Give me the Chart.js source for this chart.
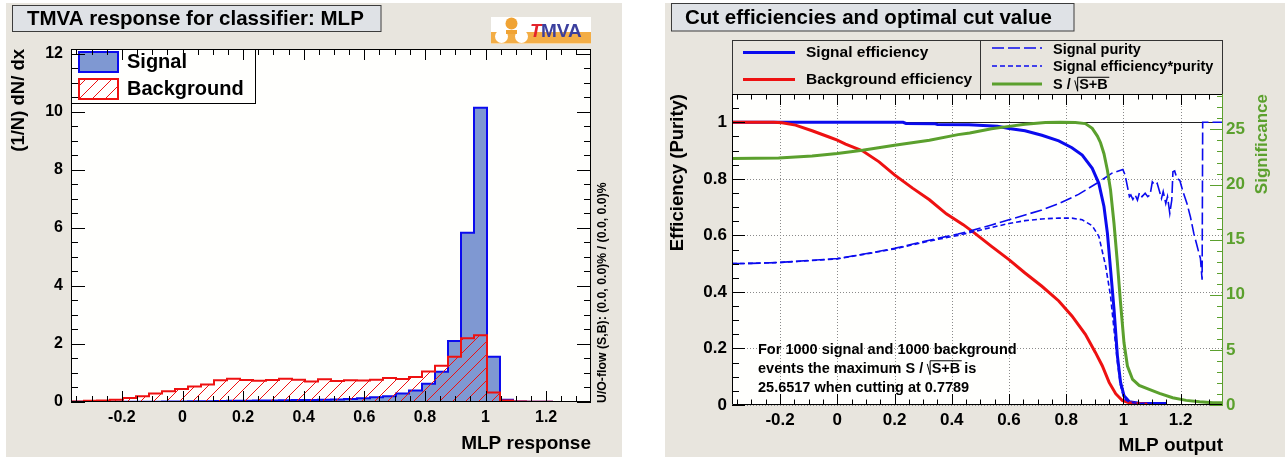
<!DOCTYPE html>
<html>
<head>
<meta charset="utf-8">
<title>TMVA MLP response and cut efficiencies</title>
<script src="https://cdn.jsdelivr.net/npm/chart.js@4.4.1/dist/chart.umd.min.js"></script>
<style>
  html, body { margin: 0; padding: 0; background: #ffffff; width: 1285px; height: 457px; overflow: hidden; }
  canvas { position: absolute; }
  #response { left: 6px; top: 3px; }
  #cuts { left: 665px; top: 3px; }
</style>
</head>
<body>
<canvas id="response" width="616" height="454"></canvas>
<canvas id="cuts" width="620" height="454"></canvas>
<script>
// ---------------------------------------------------------------------------
// Data
// ---------------------------------------------------------------------------

// Classifier output range of the response histograms (40 bins)
const responseMin = -0.368;
const responseMax = 1.348;
const densityMax = 12.16;

// (1/N) dN/dx per bin, signal and background
const signalDensity = [
  0.005, 0.005, 0.005, 0.005, 0.005, 0.005, 0.01, 0.015, 0.02, 0.025,
  0.03, 0.035, 0.04, 0.045, 0.05, 0.055, 0.06, 0.065, 0.07, 0.08,
  0.09, 0.1, 0.13, 0.16, 0.2, 0.29, 0.4, 0.63, 1.04, 2.1,
  5.83, 10.14, 1.56, 0.08, 0.02, 0.01, 0.005, 0, 0, 0
];
const backgroundDensity = [
  0.02, 0.04, 0.05, 0.08, 0.14, 0.2, 0.29, 0.37, 0.45, 0.53,
  0.6, 0.75, 0.8, 0.76, 0.73, 0.76, 0.8, 0.77, 0.71, 0.78,
  0.72, 0.75, 0.74, 0.77, 0.83, 0.79, 0.86, 1.05, 1.25, 1.56,
  2.2, 2.3, 0.33, 0.05, 0.02, 0.01, 0.005, 0, 0, 0
];

// Tick values
const outputTicks = [-0.2, 0, 0.2, 0.4, 0.6, 0.8, 1, 1.2];
const densityTicks = [0, 2, 4, 6, 8, 10, 12];
const efficiencyTicks = [0, 0.2, 0.4, 0.6, 0.8, 1];
const significanceTicks = [0, 5, 10, 15, 20, 25];

// Cut efficiencies as a function of the cut on the MLP output
const sigEffX = [-0.368, 0.23, 0.24, 0.34, 0.35, 0.46, 0.56, 0.6, 0.656, 0.715,
  0.774, 0.82, 0.856, 0.891, 0.914, 0.932, 0.944, 0.955, 0.967, 0.979,
  0.99, 1.002, 1.02, 1.055, 1.15];
const sigEffY = [1.0, 1.0, 0.996, 0.995, 0.992, 0.991, 0.986, 0.978, 0.97, 0.954,
  0.934, 0.91, 0.884, 0.837, 0.784, 0.702, 0.608, 0.48, 0.34, 0.174,
  0.08, 0.033, 0.012, 0.006, 0.005];

const bkgEffX = [-0.368, -0.222, -0.193, -0.146, -0.088, -0.029, 0, 0.029, 0.088, 0.146,
  0.2, 0.263, 0.322, 0.381, 0.44, 0.48, 0.539, 0.6, 0.656, 0.715,
  0.774, 0.82, 0.867, 0.902, 0.926, 0.95, 0.973, 0.996, 1.02, 1.055, 1.084];
const bkgEffY = [1.0, 1.0, 0.998, 0.99, 0.97, 0.948, 0.937, 0.923, 0.899, 0.86,
  0.814, 0.767, 0.726, 0.676, 0.638, 0.608, 0.561, 0.514, 0.467, 0.42,
  0.368, 0.315, 0.25, 0.186, 0.139, 0.08, 0.04, 0.016, 0.008, 0.004, 0.003];

const purityX = [-0.368, -0.3, -0.205, -0.088, 0, 0.088, 0.2, 0.322, 0.422, 0.463,
  0.539, 0.6, 0.656, 0.715, 0.774, 0.843, 0.913, 0.96, 0.998, 1.006,
  1.021, 1.026, 1.033, 1.041, 1.049, 1.056, 1.065, 1.076, 1.085, 1.093,
  1.101, 1.11, 1.118, 1.128, 1.133, 1.139, 1.148, 1.154, 1.162, 1.169,
  1.173, 1.179, 1.187, 1.197, 1.208, 1.222, 1.234, 1.246, 1.255, 1.264,
  1.269, 1.275, 1.277, 1.348];
const purityY = [0.5, 0.501, 0.504, 0.512, 0.518, 0.533, 0.554, 0.583, 0.605, 0.615,
  0.637, 0.655, 0.672, 0.69, 0.712, 0.745, 0.788, 0.82, 0.833, 0.813,
  0.737, 0.743, 0.727, 0.743, 0.725, 0.751, 0.737, 0.749, 0.737, 0.743,
  0.789, 0.778, 0.784, 0.749, 0.731, 0.755, 0.713, 0.737, 0.678, 0.725,
  0.825, 0.828, 0.801, 0.795, 0.755, 0.713, 0.666, 0.607, 0.572, 0.537,
  0.519, 0.443, 1.0, 1.0];

const effPurityX = [-0.368, -0.3, -0.205, -0.088, 0, 0.088, 0.2, 0.322, 0.422, 0.539,
  0.6, 0.656, 0.715, 0.774, 0.82, 0.856, 0.891, 0.914, 0.938, 0.955,
  0.967, 0.979, 0.99, 1.002, 1.02, 1.055, 1.15];
const effPurityY = [0.5, 0.501, 0.504, 0.511, 0.517, 0.532, 0.552, 0.58, 0.6, 0.628,
  0.642, 0.652, 0.658, 0.661, 0.661, 0.655, 0.634, 0.597, 0.491, 0.385,
  0.268, 0.151, 0.069, 0.022, 0.01, 0.005, 0.004];

const significanceX = [-0.368, -0.205, -0.088, 0, 0.088, 0.2, 0.322, 0.422, 0.463, 0.539,
  0.6, 0.656, 0.727, 0.779, 0.832, 0.867, 0.891, 0.909, 0.92, 0.932,
  0.944, 0.955, 0.967, 0.979, 0.99, 1.002, 1.014, 1.032, 1.055, 1.09,
  1.126, 1.172, 1.219, 1.266, 1.313, 1.348];
const significanceY = [22.36, 22.42, 22.6, 22.81, 23.11, 23.56, 24.02, 24.53, 24.68, 25.07,
  25.28, 25.47, 25.62, 25.65, 25.62, 25.53, 25.1, 24.4, 23.8, 22.8,
  21.3, 19.5, 16.49, 12.87, 9.25, 5.64, 3.53, 2.32, 1.78, 1.42,
  1.05, 0.66, 0.42, 0.3, 0.21, 0.2];

const maxSignificance = 25.6517;
const optimalCut = 0.7789;
const nSignal = 1000;
const nBackground = 1000;

// ---------------------------------------------------------------------------
// Styling
// ---------------------------------------------------------------------------
const FONT = '"Liberation Sans", Arial, Helvetica, sans-serif';
const PANEL = '#e8e5de';
const TITLE_FILL = '#dfe2e6';
const FRAME_FILL = '#fffffd';
const SIG_LINE = '#0b0bee';
const SIG_FILL = '#7f98d2';
const BKG_LINE = '#ee1111';
const SIGNIF = '#5ba02d';

Chart.defaults.font.family = FONT;
Chart.defaults.color = '#000';

function bold(px, extra) { return (extra ? extra + ' ' : '') + 'bold ' + px + 'px ' + FONT; }
function fmt(v) { return String(Math.round(v * 10000) / 10000); }
function points(xs, ys) { return xs.map((x, i) => ({ x: x, y: ys[i] })); }

// Step outline of a histogram: a point on every bin's low edge
function histPoints(vals, lo, hi) {
  const w = (hi - lo) / vals.length;
  const p = [{ x: lo, y: 0 }];
  vals.forEach((v, i) => p.push({ x: lo + i * w, y: v }));
  p.push({ x: hi, y: vals[vals.length - 1] });
  p.push({ x: hi, y: 0 });
  return p;
}

function hatchPattern(ctx, color, gap) {
  const c = document.createElement('canvas');
  c.width = gap; c.height = gap;
  const g = c.getContext('2d');
  g.strokeStyle = color; g.lineWidth = 1;
  g.beginPath();
  g.moveTo(0, gap); g.lineTo(gap, 0);
  g.moveTo(-gap / 2, gap / 2); g.lineTo(gap / 2, -gap / 2);
  g.moveTo(gap / 2, gap * 1.5); g.lineTo(gap * 1.5, gap / 2);
  g.stroke();
  return ctx.createPattern(c, 'repeat');
}

function fixedSize(w, h) {
  return (s) => { if (w != null) s.width = w; if (h != null) s.height = h; };
}
function setTicks(vals) {
  return (s) => { s.ticks = vals.map(v => ({ value: v })); };
}

function titleBox(ctx, x, y, w, h, text, tx, px) {
  ctx.fillStyle = TITLE_FILL;
  ctx.fillRect(x, y, w, h);
  ctx.strokeStyle = '#3c3c3c'; ctx.lineWidth = 1;
  ctx.strokeRect(x, y, w, h);
  ctx.fillStyle = '#000';
  ctx.font = bold(px);
  ctx.textAlign = 'left'; ctx.textBaseline = 'middle';
  ctx.fillText(text, tx, y + h / 2 + 1);
}

function drawLogo(ctx, x, y) {
  ctx.fillStyle = '#ffffff';
  ctx.fillRect(x, y, 100, 27);
  ctx.fillStyle = '#f3ad45';
  ctx.fillRect(x, y + 15, 100, 11.5);
  ctx.fillStyle = '#ffffff';
  [[10.5, 19.5], [30.5, 19.5]].forEach(([cx, cy]) => {
    ctx.beginPath(); ctx.arc(x + cx, y + cy, 6.5, 0, Math.PI * 2); ctx.fill();
  });
  ctx.fillStyle = '#f0a334';
  ctx.beginPath(); ctx.arc(x + 20.5, y + 6.5, 6, 0, Math.PI * 2); ctx.fill();
  ctx.fillRect(x + 15, y + 13, 11, 4);
  ctx.textAlign = 'left'; ctx.textBaseline = 'alphabetic';
  ctx.font = bold(19, 'italic');
  ctx.fillStyle = '#e3232b';
  ctx.fillText('T', x + 39, y + 20);
  ctx.font = bold(19);
  ctx.fillStyle = '#3b3f9e';
  ctx.fillText('MVA', x + 50, y + 20);
}

// ROOT-style tick marks pointing into the frame
function axisTicks(ctx, scale, area, majors, minorStep, majorLen, minorLen, sides) {
  const marks = majors.map(v => [v, majorLen]);
  const k0 = Math.ceil(scale.min / minorStep - 1e-9);
  const k1 = Math.floor(scale.max / minorStep + 1e-9);
  for (let k = k0; k <= k1; k++) {
    const v = k * minorStep;
    if (!majors.some(m => Math.abs(m - v) < minorStep * 1e-3)) marks.push([v, minorLen]);
  }
  ctx.beginPath();
  marks.forEach(([v, len]) => {
    const p = Math.round(scale.getPixelForValue(v)) + 0.5;
    if (scale.isHorizontal()) {
      if (sides.includes('bottom')) { ctx.moveTo(p, area.bottom); ctx.lineTo(p, area.bottom - len); }
      if (sides.includes('top')) { ctx.moveTo(p, area.top); ctx.lineTo(p, area.top + len); }
    } else {
      if (sides.includes('left')) { ctx.moveTo(area.left, p); ctx.lineTo(area.left + len, p); }
      if (sides.includes('right')) { ctx.moveTo(area.right, p); ctx.lineTo(area.right - len, p); }
    }
  });
  ctx.stroke();
}

// Text containing a square root drawn the ROOT way: "\|" followed by an overline
function textWithRoot(ctx, before, radicand, after, x, y, px) {
  ctx.textAlign = 'left'; ctx.textBaseline = 'middle';
  ctx.fillText(before, x, y);
  let cx = x + ctx.measureText(before).width;
  const cap = px * 0.72;
  const top = y - cap / 2 - 2.5, bottom = y + cap / 2 + 1;
  const rw = ctx.measureText(radicand).width;
  const stem = cx + px * 0.2;
  ctx.save();
  ctx.strokeStyle = ctx.fillStyle; ctx.lineWidth = 1;
  ctx.beginPath();
  ctx.moveTo(cx, top + cap * 0.3);
  ctx.lineTo(stem, bottom);
  ctx.lineTo(stem, top);
  ctx.lineTo(stem + rw + 3, top);
  ctx.stroke();
  ctx.restore();
  cx = stem + 1.5;
  ctx.fillText(radicand, cx, y);
  cx += rw;
  if (after) ctx.fillText(after, cx, y);
}

// ---------------------------------------------------------------------------
// Left panel: classifier response
// ---------------------------------------------------------------------------
const respCanvas = document.getElementById('response');
const respCtx = respCanvas.getContext('2d');
const bkgHatch = hatchPattern(respCtx, BKG_LINE, 13);

const responseDecor = {
  id: 'responseDecor',
  beforeDraw(chart) {
    const { ctx, width, height, chartArea: a } = chart;
    ctx.save();
    ctx.fillStyle = PANEL;
    ctx.fillRect(0, 0, width, height);
    titleBox(ctx, 6.5, 2.5, 368.5, 26, 'TMVA response for classifier: MLP', 21, 20.5);
    drawLogo(ctx, 485, 14);
    ctx.fillStyle = FRAME_FILL;
    ctx.fillRect(a.left, a.top, a.right - a.left, a.bottom - a.top);
    ctx.restore();
  },
  afterDatasetsDraw(chart) {
    const ctx = chart.ctx;
    const [bkg, sig] = chart.data.datasets;
    ctx.save();
    ctx.fillStyle = FRAME_FILL;
    ctx.fillRect(65.5, 46.5, 184, 54);
    ctx.strokeStyle = '#000'; ctx.lineWidth = 1;
    ctx.strokeRect(65.5, 46.5, 184, 54);
    // signal swatch
    ctx.fillStyle = sig.backgroundColor;
    ctx.fillRect(73, 49, 39, 20);
    ctx.strokeStyle = sig.borderColor; ctx.lineWidth = 2;
    ctx.strokeRect(73, 49, 39, 20);
    // background swatch
    ctx.fillStyle = '#ffffff';
    ctx.fillRect(73, 76, 39, 20);
    ctx.fillStyle = bkg.backgroundColor;
    ctx.fillRect(73, 76, 39, 20);
    ctx.strokeStyle = bkg.borderColor;
    ctx.strokeRect(73, 76, 39, 20);
    ctx.fillStyle = '#000';
    ctx.font = bold(20);
    ctx.textAlign = 'left'; ctx.textBaseline = 'middle';
    ctx.fillText(sig.label, 121, 59.5);
    ctx.fillText(bkg.label, 121, 86);
    ctx.restore();
  },
  afterDraw(chart) {
    const { ctx, chartArea: a, scales } = chart;
    ctx.save();
    ctx.strokeStyle = '#000'; ctx.lineWidth = 1;
    axisTicks(ctx, scales.x, a, outputTicks, 0.05, 11, 6, ['bottom', 'top']);
    axisTicks(ctx, scales.y, a, densityTicks, 0.5, 14, 7, ['left', 'right']);
    ctx.strokeRect(a.left + 0.5, a.top + 0.5, a.right - a.left - 1, a.bottom - a.top - 1);
    // under/overflow note along the right edge
    ctx.translate(597, 400);
    ctx.rotate(-Math.PI / 2);
    ctx.fillStyle = '#000';
    ctx.font = bold(12.3);
    ctx.textAlign = 'left'; ctx.textBaseline = 'middle';
    ctx.fillText('U/O-flow (S,B): (0.0, 0.0)% / (0.0, 0.0)%', 0, 0);
    ctx.restore();
  }
};

new Chart(respCtx, {
  type: 'line',
  data: {
    datasets: [
      {
        label: 'Background',
        data: histPoints(backgroundDensity, responseMin, responseMax),
        stepped: 'before',
        borderColor: BKG_LINE,
        borderWidth: 2,
        backgroundColor: bkgHatch,
        fill: 'origin',
        pointRadius: 0,
        order: 0
      },
      {
        label: 'Signal',
        data: histPoints(signalDensity, responseMin, responseMax),
        stepped: 'before',
        borderColor: SIG_LINE,
        borderWidth: 2,
        backgroundColor: SIG_FILL,
        fill: 'origin',
        pointRadius: 0,
        order: 1
      }
    ]
  },
  options: {
    responsive: false,
    animation: false,
    devicePixelRatio: 1,
    events: [],
    layout: { padding: { left: 0, top: 46, right: 31, bottom: 0 } },
    plugins: { legend: { display: false }, tooltip: { enabled: false }, title: { display: false } },
    scales: {
      x: {
        type: 'linear',
        min: responseMin,
        max: responseMax,
        afterBuildTicks: setTicks(outputTicks),
        afterFit: fixedSize(null, 55),
        grid: { display: false, drawTicks: false },
        border: { display: false },
        ticks: { autoSkip: false, maxRotation: 0, padding: 6, font: { size: 16, weight: 'bold' }, callback: fmt },
        title: { display: true, text: 'MLP response', align: 'end', font: { size: 19, weight: 'bold' }, padding: { top: 0, bottom: 2 } }
      },
      y: {
        type: 'linear',
        min: 0,
        max: densityMax,
        afterBuildTicks: setTicks(densityTicks),
        afterFit: fixedSize(65, null),
        grid: { display: false, drawTicks: false },
        border: { display: false },
        ticks: { autoSkip: false, padding: 8, font: { size: 16, weight: 'bold' }, callback: fmt },
        title: { display: true, text: '(1/N) dN/ dx', align: 'end', font: { size: 18.5, weight: 'bold' }, padding: { top: 2, bottom: 0 } }
      }
    }
  },
  plugins: [responseDecor]
});

// ---------------------------------------------------------------------------
// Right panel: cut efficiencies
// ---------------------------------------------------------------------------
const cutsCtx = document.getElementById('cuts').getContext('2d');

const cutsDecor = {
  id: 'cutsDecor',
  beforeDraw(chart) {
    const { ctx, width, height, chartArea: a } = chart;
    ctx.save();
    ctx.fillStyle = PANEL;
    ctx.fillRect(0, 0, width, height);
    titleBox(ctx, 6.5, 0.5, 402.5, 27.5, 'Cut efficiencies and optimal cut value', 20, 20.5);
    // legend frame
    ctx.strokeStyle = '#333'; ctx.lineWidth = 1;
    ctx.strokeRect(a.left + 0.5, 37.5, a.right - a.left - 1, a.top - 37);
    ctx.beginPath(); ctx.moveTo(315.5, 37.5); ctx.lineTo(315.5, a.top); ctx.stroke();
    ctx.fillStyle = FRAME_FILL;
    ctx.fillRect(a.left, a.top, a.right - a.left, a.bottom - a.top);
    ctx.restore();
  },
  beforeDatasetsDraw(chart) {
    const { ctx, chartArea: a, scales } = chart;
    ctx.save();
    ctx.strokeStyle = '#8a8a8a'; ctx.lineWidth = 1;
    ctx.setLineDash([1, 2]);
    ctx.beginPath();
    outputTicks.forEach(v => {
      const p = Math.round(scales.x.getPixelForValue(v)) + 0.5;
      ctx.moveTo(p, a.top); ctx.lineTo(p, a.bottom);
    });
    efficiencyTicks.forEach(v => {
      const p = Math.round(scales.y.getPixelForValue(v)) + 0.5;
      ctx.moveTo(a.left, p); ctx.lineTo(a.right, p);
    });
    ctx.stroke();
    ctx.setLineDash([]);
    ctx.strokeStyle = '#222';
    const one = Math.round(scales.y.getPixelForValue(1)) + 0.5;
    ctx.beginPath(); ctx.moveTo(a.left, one); ctx.lineTo(a.right, one); ctx.stroke();
    ctx.restore();
  },
  afterDatasetsDraw(chart) {
    const ctx = chart.ctx;
    ctx.save();
    ctx.fillStyle = '#000';
    ctx.font = bold(14.5);
    ctx.textAlign = 'left'; ctx.textBaseline = 'middle';
    ctx.fillText('For ' + nSignal + ' signal and ' + nBackground + ' background', 93, 347);
    textWithRoot(ctx, 'events the maximum S / ', 'S+B', ' is', 93, 365.5, 14.5);
    ctx.fillText(maxSignificance.toFixed(4) + ' when cutting at ' + optimalCut.toFixed(4), 93, 384.5);
    ctx.restore();
  },
  afterDraw(chart) {
    const { ctx, chartArea: a, scales } = chart;
    const ds = chart.data.datasets;
    ctx.save();
    ctx.strokeStyle = '#000'; ctx.lineWidth = 1;
    axisTicks(ctx, scales.x, a, outputTicks, 0.05, 11, 5.5, ['bottom', 'top']);
    axisTicks(ctx, scales.y, a, efficiencyTicks, 0.05, 13, 7, ['left']);
    ctx.beginPath();
    ctx.moveTo(a.right - 0.5, a.top + 0.5);
    ctx.lineTo(a.left + 0.5, a.top + 0.5);
    ctx.lineTo(a.left + 0.5, a.bottom - 0.5);
    ctx.lineTo(a.right - 0.5, a.bottom - 0.5);
    ctx.stroke();
    ctx.strokeStyle = SIGNIF;
    axisTicks(ctx, scales.y2, a, significanceTicks, 1, 13, 6, ['right']);
    ctx.beginPath(); ctx.moveTo(a.right - 0.5, a.top); ctx.lineTo(a.right - 0.5, a.bottom); ctx.stroke();

    // legend entries
    const sample = (d, x1, x2, y) => {
      ctx.save();
      ctx.strokeStyle = d.borderColor; ctx.lineWidth = d.borderWidth;
      ctx.setLineDash(d.borderDash || []);
      ctx.beginPath(); ctx.moveTo(x1, y); ctx.lineTo(x2, y); ctx.stroke();
      ctx.restore();
    };
    const byLabel = l => ds.find(d => d.label === l);
    ctx.fillStyle = '#000';
    ctx.textAlign = 'left'; ctx.textBaseline = 'middle';
    ctx.font = bold(15.5);
    sample(byLabel('Signal efficiency'), 78, 130, 49.5);
    ctx.fillText('Signal efficiency', 141, 49.5);
    sample(byLabel('Background efficiency'), 78, 130, 76.5);
    ctx.fillText('Background efficiency', 141, 76.5);
    ctx.font = bold(14.5);
    sample(byLabel('Signal purity'), 327, 377, 45);
    ctx.fillText('Signal purity', 388, 46.5);
    sample(byLabel('Signal efficiency*purity'), 327, 377, 63);
    ctx.fillText('Signal efficiency*purity', 388, 63.5);
    sample(byLabel('S/sqrt(S+B)'), 327, 377, 81);
    textWithRoot(ctx, 'S / ', 'S+B', '', 388, 82, 14.5);

    // secondary axis title, reading upwards
    ctx.translate(597, a.top);
    ctx.rotate(-Math.PI / 2);
    ctx.fillStyle = SIGNIF;
    ctx.font = bold(17);
    ctx.textAlign = 'right'; ctx.textBaseline = 'middle';
    ctx.fillText('Significance', 0, 0);
    ctx.restore();
  }
};

new Chart(cutsCtx, {
  type: 'line',
  data: {
    datasets: [
      { label: 'S/sqrt(S+B)', data: points(significanceX, significanceY), yAxisID: 'y2',
        borderColor: SIGNIF, borderWidth: 3, pointRadius: 0, fill: false, tension: 0, order: 0 },
      { label: 'Signal efficiency*purity', data: points(effPurityX, effPurityY), yAxisID: 'y',
        borderColor: SIG_LINE, borderWidth: 1.6, borderDash: [5, 3], pointRadius: 0, fill: false, tension: 0, order: 1 },
      { label: 'Signal purity', data: points(purityX, purityY), yAxisID: 'y',
        borderColor: SIG_LINE, borderWidth: 1.6, borderDash: [12, 4], pointRadius: 0, fill: false, tension: 0, order: 2 },
      { label: 'Background efficiency', data: points(bkgEffX, bkgEffY), yAxisID: 'y',
        borderColor: BKG_LINE, borderWidth: 3, pointRadius: 0, fill: false, tension: 0, order: 3 },
      { label: 'Signal efficiency', data: points(sigEffX, sigEffY), yAxisID: 'y',
        borderColor: SIG_LINE, borderWidth: 3, pointRadius: 0, fill: false, tension: 0, order: 4 }
    ]
  },
  options: {
    responsive: false,
    animation: false,
    devicePixelRatio: 1,
    events: [],
    layout: { padding: { left: 0, top: 91, right: 0, bottom: 0 } },
    plugins: { legend: { display: false }, tooltip: { enabled: false }, title: { display: false } },
    scales: {
      x: {
        type: 'linear',
        min: responseMin,
        max: responseMax,
        afterBuildTicks: setTicks(outputTicks),
        afterFit: fixedSize(null, 52),
        grid: { display: false, drawTicks: false },
        border: { display: false },
        ticks: { autoSkip: false, maxRotation: 0, padding: 5, font: { size: 17, weight: 'bold' }, callback: fmt },
        title: { display: true, text: 'MLP output', align: 'end', font: { size: 19, weight: 'bold' }, padding: { top: 0, bottom: 0 } }
      },
      y: {
        type: 'linear',
        position: 'left',
        min: 0,
        max: 1.1,
        afterBuildTicks: setTicks(efficiencyTicks),
        afterFit: fixedSize(67, null),
        grid: { display: false, drawTicks: false },
        border: { display: false },
        ticks: { autoSkip: false, padding: 5, font: { size: 17, weight: 'bold' }, callback: fmt },
        title: { display: true, text: 'Efficiency (Purity)', align: 'end', font: { size: 18.5, weight: 'bold' }, padding: { top: 2, bottom: 0 } }
      },
      y2: {
        type: 'linear',
        position: 'right',
        min: 0,
        max: 1.1 * maxSignificance,
        afterBuildTicks: setTicks(significanceTicks),
        afterFit: fixedSize(62, null),
        grid: { display: false, drawTicks: false },
        border: { display: false },
        ticks: { autoSkip: false, padding: 3, color: SIGNIF, font: { size: 17, weight: 'bold' }, callback: fmt }
      }
    }
  },
  plugins: [cutsDecor]
});
</script>
</body>
</html>
